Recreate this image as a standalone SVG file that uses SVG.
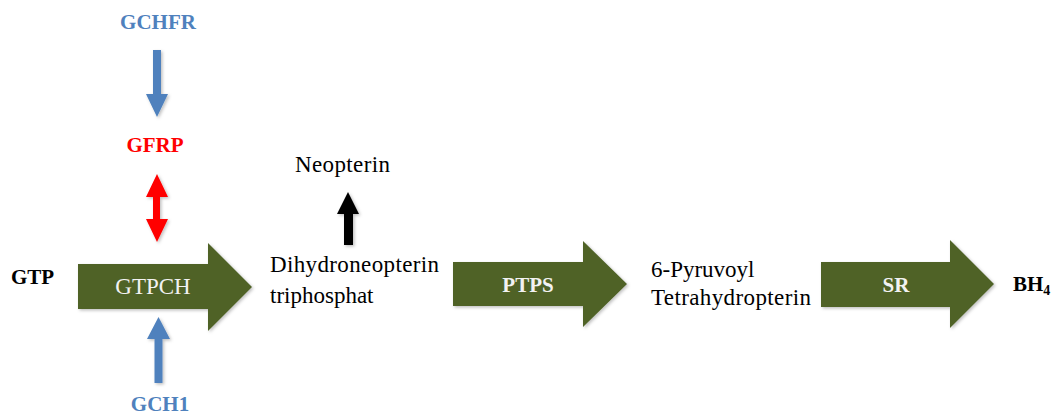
<svg xmlns="http://www.w3.org/2000/svg" width="1058" height="415" viewBox="0 0 1058 415" font-family="'Liberation Serif', 'Times New Roman', serif">
<defs>
<style>
.t{font-size:23px;fill:#000}
.b{font-weight:bold;font-size:21px}
.blue{fill:#4F81BD}
.red{fill:#FF0000}
.blk{fill:#000}
.w{fill:#F2F2F2}
.g{fill:#4F6228}
</style>
<filter id="sh" x="-20%" y="-20%" width="150%" height="150%">
<feDropShadow dx="1.5" dy="1.5" stdDeviation="1.5" flood-color="#000" flood-opacity="0.25"/>
</filter>
</defs>
<rect width="1058" height="415" fill="#fff"/>
<g id="connectors">
<path class="blue" filter="url(#sh)" d="M153,50 H161 V94 H168 L157,117 L146,94 H153 Z"/>
<path class="red" filter="url(#sh)" d="M157,174 L168,197 H160 V219 H168 L157,242 L146,219 H153 V197 H146 Z"/>
<path class="blue" filter="url(#sh)" d="M158.5,317 L170,339 H162.5 V383 H154.5 V339 H147 Z"/>
<path class="blk" filter="url(#sh)" d="M348,192 L359,214 H353 V245 H344 V214 H337 Z"/>
</g>
<g id="gtpch">
<path class="g" filter="url(#sh)" d="M78,264 H208 V243 L252,287 L208,331 V309 H78 Z"/>
<text class="t w" x="153" y="294" text-anchor="middle">GTPCH</text>
</g>
<g id="ptps">
<path class="g" filter="url(#sh)" d="M453,262 H583 V241 L627,284 L583,327 V306 H453 Z"/>
<text class="b w" x="528" y="292" text-anchor="middle">PTPS</text>
</g>
<g id="sr">
<path class="g" filter="url(#sh)" d="M821,262 H950 V240 L994,284 L950,328 V307 H821 Z"/>
<text class="b w" x="896" y="292" text-anchor="middle">SR</text>
</g>
<g id="gchfr"><text class="b blue" x="158" y="29" text-anchor="middle">GCHFR</text></g>
<g id="gfrp"><text class="b red" x="155" y="152" text-anchor="middle">GFRP</text></g>
<g id="gch1"><text class="b blue" x="160" y="411" text-anchor="middle" font-size="20">GCH1</text></g>
<g id="gtp"><text class="b blk" x="11" y="284" font-size="22">GTP</text></g>
<g id="neopterin"><text class="t" x="295" y="172" textLength="95">Neopterin</text></g>
<g id="dihydroneopterin">
<text class="t" x="270" y="272" textLength="169">Dihydroneopterin</text>
<text class="t" x="270" y="303">triphosphat</text>
</g>
<g id="pyruvoyl">
<text class="t" x="651" y="277">6-Pyruvoyl</text>
<text class="t" x="651" y="305" textLength="160">Tetrahydropterin</text>
</g>
<g id="bh4"><text class="b blk" x="1013" y="291" font-size="22">BH<tspan font-size="14" dy="4">4</tspan></text></g>
</svg>
